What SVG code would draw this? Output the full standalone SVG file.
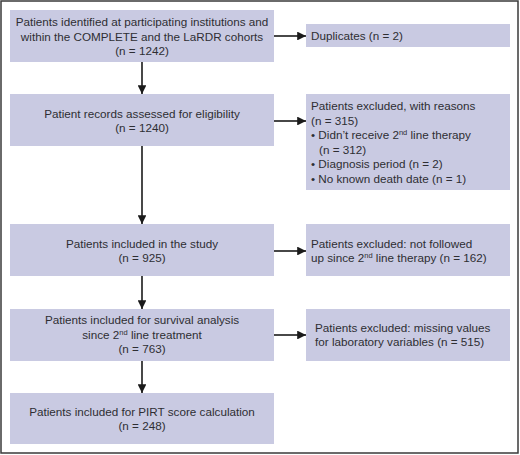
<svg xmlns="http://www.w3.org/2000/svg" width="520" height="455" viewBox="0 0 520 455">
<defs>
<style>
.box{fill:#c9cae2;}
.t{font-family:"Liberation Sans",Arial,sans-serif;font-size:11.7px;fill:#2e2e33;}
.c{text-anchor:middle;}
.sup{font-size:7.5px;}
.ln{stroke:#1a1a1a;stroke-width:1.6;fill:none;marker-end:url(#ah);}
</style>
<marker id="ah" viewBox="0 0 10 10" refX="10" refY="5" markerWidth="6" markerHeight="5.5" orient="auto" markerUnits="strokeWidth">
<path d="M0,0 L10,5 L0,10 Z" fill="#1a1a1a"/>
</marker>
</defs>
<rect x="1" y="1" width="517" height="452" fill="#ffffff" stroke="#3a3a3a" stroke-width="1.5"/>
<g id="connectors">
<line class="ln" x1="274" y1="36" x2="306" y2="36"/>
<line class="ln" x1="142" y1="62" x2="142" y2="94"/>
<line class="ln" x1="274" y1="121" x2="306" y2="121"/>
<line class="ln" x1="142" y1="146" x2="142" y2="224"/>
<line class="ln" x1="274" y1="251" x2="306" y2="251"/>
<line class="ln" x1="142" y1="276" x2="142" y2="309"/>
<line class="ln" x1="274" y1="335" x2="306" y2="335"/>
<line class="ln" x1="142" y1="361" x2="142" y2="393"/>
</g>
<g id="n1">
<rect class="box" x="10" y="10" width="264" height="52"/>
<text class="t c" x="142" y="26">Patients identified at participating institutions and</text>
<text class="t c" x="142" y="40.5">within the COMPLETE and the LaRDR cohorts</text>
<text class="t c" x="142" y="55">(n = 1242)</text>
</g>
<g id="n1r">
<rect class="box" x="306" y="24" width="204" height="23"/>
<text class="t" x="311" y="40">Duplicates (n = 2)</text>
</g>
<g id="n2">
<rect class="box" x="10" y="94" width="264" height="52"/>
<text class="t c" x="142" y="117.5">Patient records assessed for eligibility</text>
<text class="t c" x="142" y="131.5">(n = 1240)</text>
</g>
<g id="n2r">
<rect class="box" x="306" y="94" width="204" height="96"/>
<text class="t" x="311" y="110">Patients excluded, with reasons</text>
<text class="t" x="311" y="124.5">(n = 315)</text>
<text class="t" x="311" y="139">• Didn’t receive 2<tspan class="sup" dy="-4">nd</tspan><tspan dy="4"> line therapy</tspan></text>
<text class="t" x="319" y="153.5">(n = 312)</text>
<text class="t" x="311" y="168">• Diagnosis period (n = 2)</text>
<text class="t" x="311" y="182.5">• No known death date (n = 1)</text>
</g>
<g id="n3">
<rect class="box" x="10" y="224" width="264" height="52"/>
<text class="t c" x="142" y="247.5">Patients included in the study</text>
<text class="t c" x="142" y="261.5">(n = 925)</text>
</g>
<g id="n3r">
<rect class="box" x="306" y="224" width="204" height="52"/>
<text class="t" x="311" y="247.5">Patients excluded: not followed</text>
<text class="t" x="311" y="261.5">up since 2<tspan class="sup" dy="-4">nd</tspan><tspan dy="4"> line therapy (n = 162)</tspan></text>
</g>
<g id="n4">
<rect class="box" x="10" y="309" width="264" height="52"/>
<text class="t c" x="142" y="324">Patients included for survival analysis</text>
<text class="t c" x="142" y="338.5">since 2<tspan class="sup" dy="-4">nd</tspan><tspan dy="4"> line treatment</tspan></text>
<text class="t c" x="142" y="352.5">(n = 763)</text>
</g>
<g id="n4r">
<rect class="box" x="306" y="309" width="204" height="52"/>
<text class="t" x="315" y="331.5">Patients excluded: missing values</text>
<text class="t" x="315" y="346">for laboratory variables (n = 515)</text>
</g>
<g id="n5">
<rect class="box" x="10" y="393" width="264" height="51"/>
<text class="t c" x="142" y="415.5">Patients included for PIRT score calculation</text>
<text class="t c" x="142" y="429.5">(n = 248)</text>
</g>
</svg>
